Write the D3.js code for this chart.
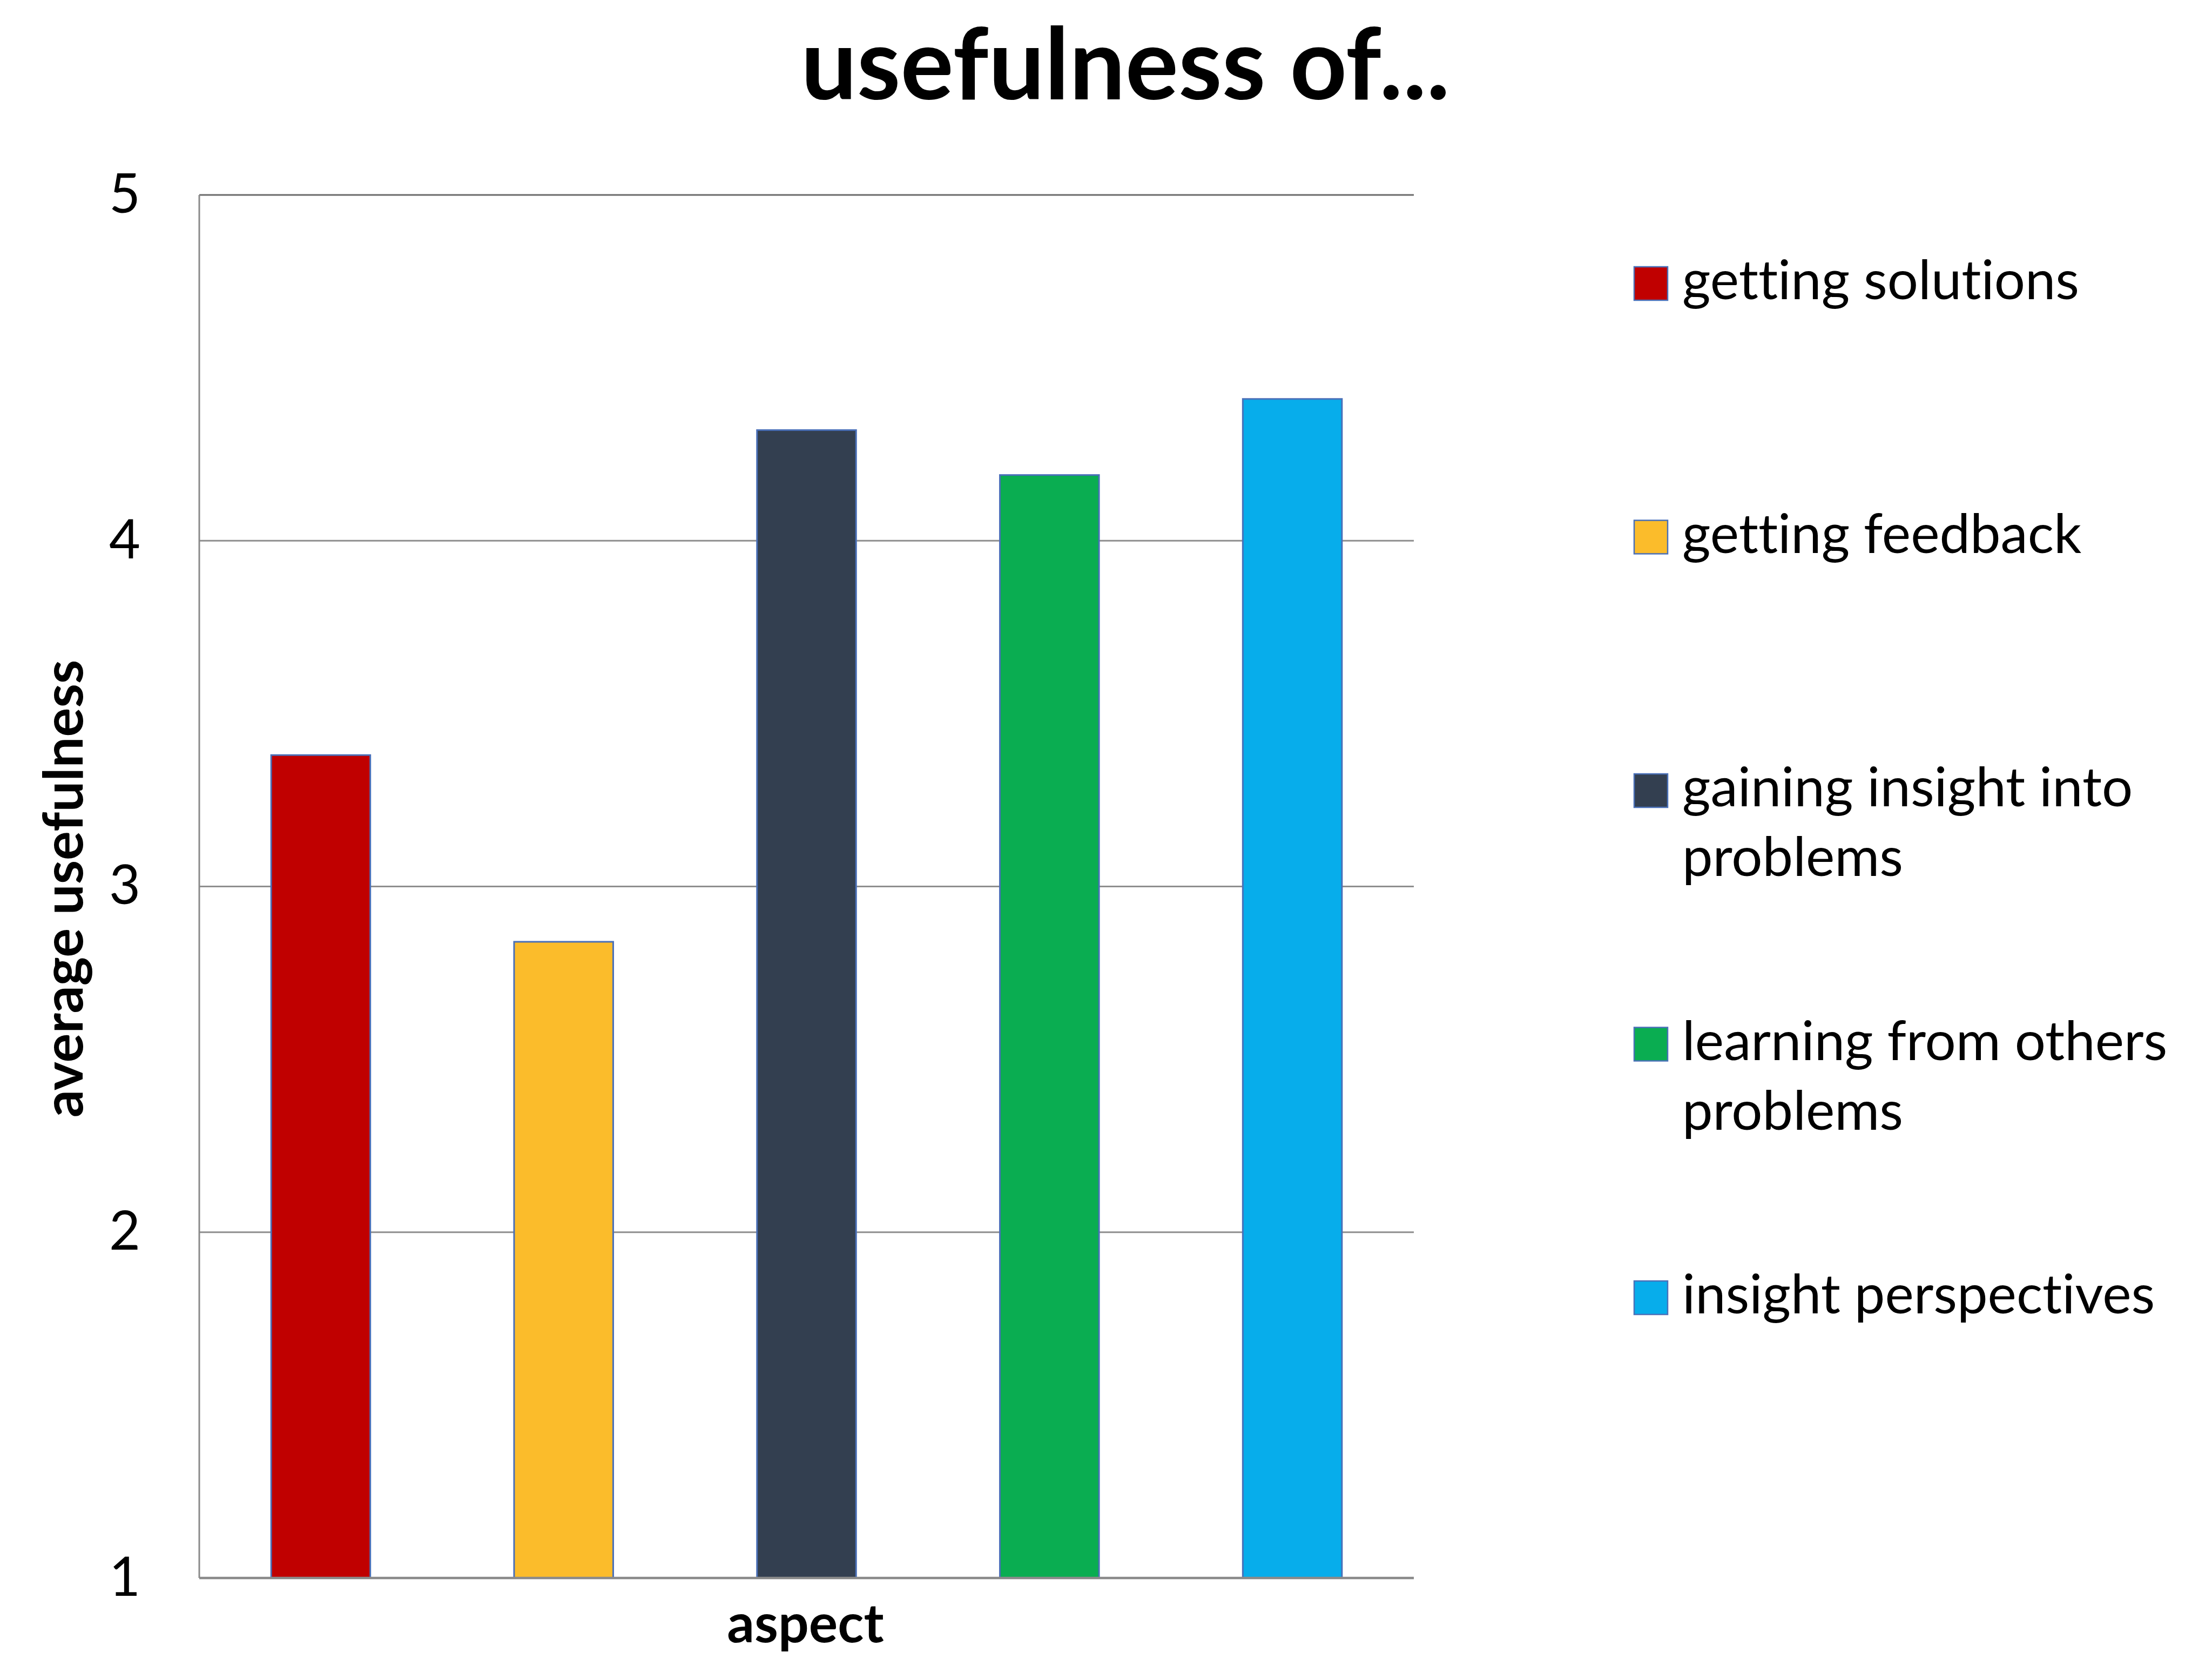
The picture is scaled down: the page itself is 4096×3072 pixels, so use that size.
<!DOCTYPE html>
<html>
<head>
<meta charset="utf-8">
<script src="https://cdn.jsdelivr.net/npm/d3@7"></script>
<style>
  html, body { margin: 0; padding: 0; background: #ffffff; }
  svg { display: block; }
  text {
    font-family: Lato, "Open Sans", sans-serif;
    fill: #000;
    font-variant-ligatures: none;
    font-feature-settings: "liga" 0, "clig" 0, "dlig" 0;
  }
</style>
</head>
<body>
<script>
// Average usefulness rating per aspect (scale 1–5)
const categories = [
  "getting solutions",
  "getting feedback",
  "gaining insight into problems",
  "learning from others problems",
  "insight perspectives"
];
const values = [3.38, 2.84, 4.32, 4.19, 4.41];
const colors = ["#C00000", "#FBBC2B", "#333F50", "#0AAD51", "#07ADEB"];
// Legend entries, wrapped the way they are printed
const legendLines = [
  ["getting solutions"],
  ["getting feedback"],
  ["gaining insight into", "problems"],
  ["learning from others", "problems"],
  ["insight perspectives"]
];
const yTicks = [1, 2, 3, 4, 5];

const W = 4096, H = 3072;
const svg = d3.select("body").append("svg")
  .attr("width", W).attr("height", H)
  .attr("viewBox", `0 0 ${W} ${H}`);

const plot = { left: 369, right: 2618, top: 361, bottom: 2922 };

const x = d3.scaleBand()
  .domain(categories)
  .range([plot.left, plot.right])
  .paddingInner(0.592)
  .paddingOuter(0.296);

const y = d3.scaleLinear()
  .domain([1, 5])
  .range([plot.bottom, plot.top]);

// Horizontal gridlines
const grid = svg.append("g");
grid.selectAll("line")
  .data(yTicks.filter(d => d > 1))
  .join("line")
  .attr("x1", plot.left).attr("x2", plot.right)
  .attr("y1", d => y(d)).attr("y2", d => y(d))
  .attr("stroke", d => d === 5 ? "#6a6a6a" : "#8e8e8e")
  .attr("stroke-width", 2.8);

// Left axis line
svg.append("line")
  .attr("x1", plot.left).attr("x2", plot.left)
  .attr("y1", plot.top).attr("y2", plot.bottom)
  .attr("stroke", "#8a8a8a")
  .attr("stroke-width", 3);

// Y tick labels via d3 axis (domain and tick marks hidden)
const yAxis = d3.axisLeft(y)
  .tickValues(yTicks)
  .tickFormat(d3.format("d"))
  .tickSize(0)
  .tickPadding(109);
const yg = svg.append("g")
  .attr("transform", `translate(${plot.left},0)`)
  .call(yAxis);
yg.select(".domain").remove();
yg.selectAll("text")
  .attr("font-family", "Lato, sans-serif")
  .attr("font-size", 100)
  .attr("fill", "#000");

// Bars
svg.append("g").selectAll("rect")
  .data(categories)
  .join("rect")
  .attr("x", d => x(d))
  .attr("width", x.bandwidth())
  .attr("y", (d, i) => y(values[i]))
  .attr("height", (d, i) => y(1) - y(values[i]))
  .attr("fill", (d, i) => colors[i])
  .attr("stroke", "#4A70B8")
  .attr("stroke-width", 3);

// Baseline
svg.append("line")
  .attr("x1", plot.left).attr("x2", plot.right)
  .attr("y1", y(1)).attr("y2", y(1))
  .attr("stroke", "#8a8a8a")
  .attr("stroke-width", 4.5);

// Title
svg.append("text")
  .attr("x", 2084).attr("y", 184)
  .attr("text-anchor", "middle")
  .attr("font-weight", 700)
  .attr("font-size", 184)
  .text("usefulness of...");

// Axis titles
svg.append("text")
  .attr("transform", `translate(153,${(plot.top + plot.bottom) / 2 + 4}) rotate(-90)`)
  .attr("text-anchor", "middle")
  .attr("font-weight", 700)
  .attr("font-size", 101)
  .text("average usefulness");

svg.append("text")
  .attr("x", (plot.left + plot.right) / 2 - 2)
  .attr("y", 3041)
  .attr("text-anchor", "middle")
  .attr("font-weight", 700)
  .attr("font-size", 100)
  .text("aspect");

// Legend
const legendY = d3.scalePoint()
  .domain(categories)
  .range([554, 2432]);
const lineGap = 129;
const sw = 62;
const lg = svg.append("g").selectAll("g")
  .data(categories)
  .join("g")
  .attr("transform", d => `translate(3026,${legendY(d)})`);
lg.append("rect")
  .attr("x", 0).attr("y", -sw + 2)
  .attr("width", sw).attr("height", sw)
  .attr("fill", (d, i) => colors[i])
  .attr("stroke", "#4A70B8")
  .attr("stroke-width", 2.5);
lg.each(function(d, i) {
  d3.select(this).selectAll("text")
    .data(legendLines[i])
    .join("text")
    .attr("x", 89)
    .attr("y", (t, j) => j * lineGap)
    .attr("font-size", 101)
    .text(t => t);
});
</script>
</body>
</html>
